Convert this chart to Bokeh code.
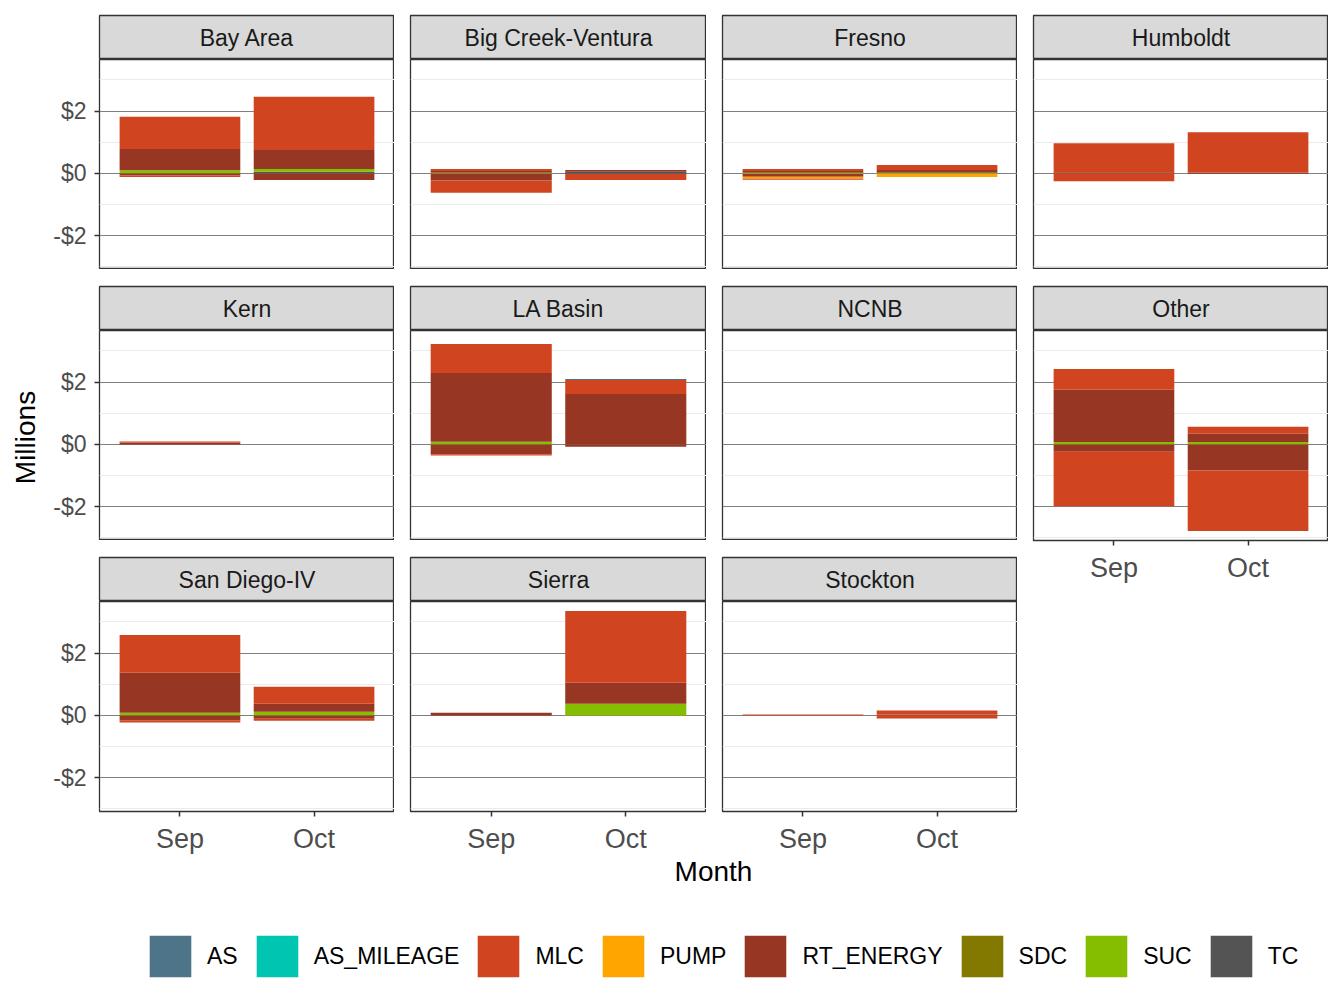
import math
from bokeh.plotting import figure
from bokeh.models import (ColumnDataSource, Range1d, FactorRange, LinearAxis, CategoricalAxis,
                          FixedTicker, NumeralTickFormatter, Label, Legend, LegendItem, Grid)
from bokeh.layouts import row, column
from bokeh.embed import file_html
from bokeh.resources import INLINE
from bokeh.core.properties import value

# ---------------- data ----------------
regions = ["Bay Area", "Big Creek-Ventura", "Fresno", "Humboldt", "Kern", "LA Basin",
           "NCNB", "Other", "San Diego-IV", "Sierra", "Stockton"]
months = ["Sep", "Oct"]
categories = ["AS", "AS_MILEAGE", "MLC", "PUMP", "RT_ENERGY", "SDC", "SUC", "TC"]
colors = ["#4E7489", "#00C5B0", "#D04520", "#FFA500", "#973623", "#837800", "#85BE00", "#545454"]

# values in $ millions, one [Sep, Oct] pair per region (same order as `regions`)
MLC_pos = [[1.04, 1.71], [0.065, 0.0], [0.065, 0.16], [0.93, 1.29], [0.03, 0.0], [0.93, 0.45],
           [0.0, 0.0], [0.67, 0.225], [1.215, 0.547], [0.0, 2.305], [0.03, 0.13]]
MLC_neg = [[-0.055, 0.0], [-0.39, -0.19], [-0.032, 0.0], [-0.25, 0.0], [0.0, 0.0], [-0.035, 0.0],
           [0.0, 0.0], [-1.75, -1.94], [-0.065, -0.064], [0.0, 0.0], [0.0, -0.10]]
RT_ENERGY_pos = [[0.68, 0.61], [0.054, 0.054], [0.054, 0.086], [0.04, 0.03], [0.06, 0.0], [2.21, 1.62],
                 [0.0, 0.0], [1.675, 0.265], [1.28, 0.256], [0.085, 0.672], [0.0, 0.03]]
RT_ENERGY_neg = [[-0.065, -0.215], [-0.22, 0.0], [-0.086, 0.0], [0.0, -0.02], [0.0, 0.0], [-0.32, -0.075],
                 [0.0, 0.0], [-0.235, -0.84], [-0.16, -0.107], [0.0, 0.0], [0.0, 0.0]]
SUC_pos = [[0.10, 0.086], [0.02, 0.0], [0.02, 0.02], [0.0, 0.0], [0.0, 0.0], [0.085, 0.0],
           [0.0, 0.0], [0.075, 0.075], [0.085, 0.117], [0.0, 0.373], [0.0, 0.0]]
SUC_neg = [[0.0, 0.0], [-0.01, 0.0], [-0.02, -0.02], [0.0, 0.0], [0.0, 0.0], [0.0, 0.0],
           [0.0, 0.0], [0.0, 0.0], [0.0, 0.0], [0.0, 0.0], [0.0, 0.0]]
PUMP_pos = [[0.0, 0.0]] * 11
PUMP_neg = [[0.0, 0.0], [0.0, 0.0], [-0.065, -0.097], [0.0, 0.0], [0.0, 0.0], [0.0, 0.0],
            [0.0, 0.0], [0.0, 0.0], [0.0, 0.0], [0.0, 0.0], [0.0, 0.0]]
TC_pos = [[0.0, 0.054], [0.0, 0.054], [0.0, 0.0], [0.0, 0.0], [0.0, 0.0], [0.0, 0.0],
          [0.0, 0.0], [0.0, 0.0], [0.0, 0.0], [0.0, 0.0], [0.0, 0.0]]
TC_neg = [[0.0, 0.0], [0.0, -0.02], [0.0, 0.0], [0.0, 0.0], [0.0, 0.0], [0.0, 0.0],
          [0.0, 0.0], [0.0, 0.0], [0.0, 0.0], [0.0, 0.0], [0.0, 0.0]]
AS_pos = [[0.0, 0.0], [0.0, 0.0], [0.0, 0.0], [0.0, 0.0], [0.0, 0.0], [0.0, 0.032],
          [0.0, 0.0], [0.0, 0.0], [0.0, 0.0], [0.0, 0.0], [0.0, 0.0]]
AS_neg = [[0.0, 0.0]] * 11
AS_MILEAGE_pos = [[0.0, 0.0]] * 11
AS_MILEAGE_neg = [[0.0, 0.0]] * 11
SDC_pos = [[0.0, 0.0]] * 11
SDC_neg = [[0.0, 0.0]] * 11

pos = {"AS": AS_pos, "AS_MILEAGE": AS_MILEAGE_pos, "MLC": MLC_pos, "PUMP": PUMP_pos,
       "RT_ENERGY": RT_ENERGY_pos, "SDC": SDC_pos, "SUC": SUC_pos, "TC": TC_pos}
neg = {"AS": AS_neg, "AS_MILEAGE": AS_MILEAGE_neg, "MLC": MLC_neg, "PUMP": PUMP_neg,
       "RT_ENERGY": RT_ENERGY_neg, "SDC": SDC_neg, "SUC": SUC_neg, "TC": TC_neg}
color_of = dict(zip(categories, colors))
stack_order = list(reversed(categories))  # ggplot stacks last level nearest zero

# ---------------- styling ----------------
FONT = "Liberation Sans"
FRAME_H = 210
STRIP_H = 44
BOTTOM_AX = 46
TOP_PAD = 15
frame_w = [295, 296, 295, 295]
border_left = [57, 16, 16, 16]

# stacked segments and global y range (ggplot 5% expansion)
panel_src = []
ymax, ymin = 0.0, 0.0
for i, reg in enumerate(regions):
    xs, bots, tops, cols = [], [], [], []
    for j, m in enumerate(months):
        pb, nb = 0.0, 0.0
        for cat in stack_order:
            v = pos[cat][i][j]
            if v > 0:
                xs.append(m); bots.append(pb); tops.append(pb + v); cols.append(color_of[cat]); pb += v
        for cat in stack_order:
            v = neg[cat][i][j]
            if v < 0:
                xs.append(m); bots.append(nb + v); tops.append(nb); cols.append(color_of[cat]); nb += v
        ymax = max(ymax, pb); ymin = min(ymin, nb)
    panel_src.append(ColumnDataSource(dict(x=xs, bottom=bots, top=tops, color=cols)))
pad = 0.05 * (ymax - ymin)
Y0, Y1 = ymin - pad, ymax + pad


def make_strip(name, c, top):
    s = figure(width=border_left[c] + frame_w[c], height=top + STRIP_H,
               x_range=Range1d(0, 1), y_range=Range1d(0, 1),
               output_backend="svg", toolbar_location=None,
               x_axis_location=None, y_axis_location=None,
               min_border=0, min_border_left=border_left[c], min_border_top=top,
               min_border_right=0, min_border_bottom=0,
               background_fill_color="#D9D9D9", outline_line_color="#333333",
               outline_line_width=1.3)
    s.center = []
    s.text(x=[0.5], y=[0.5], text=[name], text_align="center", text_baseline="middle",
           text_font=value(FONT), text_font_size="23px", text_color="#1A1A1A")
    return s


def make_panel(i, c, left_axis, bottom_axis):
    bb = BOTTOM_AX if bottom_axis else 0
    p = figure(width=border_left[c] + frame_w[c], height=FRAME_H + bb,
               x_range=FactorRange(factors=months, range_padding=0.1, range_padding_units="absolute"),
               y_range=Range1d(Y0, Y1),
               output_backend="svg", toolbar_location=None,
               x_axis_location=None, y_axis_location=None,
               min_border=0, min_border_left=border_left[c], min_border_top=0,
               min_border_right=0, min_border_bottom=bb,
               background_fill_color="white", outline_line_color="#333333",
               outline_line_width=1.3)
    p.center = []
    p.add_layout(Grid(dimension=1, ticker=FixedTicker(ticks=[-2, 0, 2], minor_ticks=[-3, -1, 1, 3]),
                      grid_line_color="#7F7F7F", grid_line_width=1,
                      minor_grid_line_color="#EBEBEB", minor_grid_line_width=1))
    p.vbar(x="x", bottom="bottom", top="top", width=0.9, source=panel_src[i],
           fill_color="color", line_color=None)
    if left_axis:
        ya = LinearAxis(ticker=FixedTicker(ticks=[-2, 0, 2]),
                        formatter=NumeralTickFormatter(format="$0"))
        ya.axis_line_color = None
        ya.major_tick_line_color = "#333333"
        ya.major_tick_line_width = 1.5
        ya.major_tick_out = 5
        ya.major_tick_in = 0
        ya.minor_tick_line_color = None
        ya.major_label_standoff = 8
        ya.major_label_text_font = FONT
        ya.major_label_text_font_size = "23px"
        ya.major_label_text_color = "#4D4D4D"
        p.add_layout(ya, "left")
    if bottom_axis:
        xa = CategoricalAxis()
        xa.axis_line_color = None
        xa.major_tick_line_color = "#333333"
        xa.major_tick_line_width = 1.5
        xa.major_tick_out = 5
        xa.major_tick_in = 0
        xa.minor_tick_line_color = None
        xa.major_label_standoff = 7
        xa.major_label_text_font = FONT
        xa.major_label_text_font_size = "27px"
        xa.major_label_text_color = "#4D4D4D"
        p.add_layout(xa, "below")
    return p


n = len(regions)
grid_cols = []
for c in range(4):
    items = []
    for r in range(3):
        i = r * 4 + c
        if i >= n:
            continue
        items.append(make_strip(regions[i], c, TOP_PAD if r == 0 else 17))
        below_empty = (i + 4) >= n
        items.append(make_panel(i, c, left_axis=(c == 0), bottom_axis=below_empty))
    grid_cols.append(column(*items, spacing=0))

GRID_H = (TOP_PAD + STRIP_H) + FRAME_H + (17 + STRIP_H) + FRAME_H + (17 + STRIP_H) + FRAME_H + BOTTOM_AX
LAB_W = 42
lab = figure(width=LAB_W, height=GRID_H, x_range=Range1d(0, LAB_W), y_range=Range1d(0, GRID_H),
             output_backend="svg", toolbar_location=None, x_axis_location=None, y_axis_location=None,
             min_border=0, outline_line_color=None)
lab.center = []
lab.add_layout(Label(x=25, y=GRID_H - 437, text="Millions", angle=math.pi / 2,
                     text_align="center", text_baseline="middle",
                     text_font=FONT, text_font_size="28px", text_color="#000000"))

TOTAL_W = LAB_W + sum(b + f for b, f in zip(border_left, frame_w))
BOT_H = 142
bot = figure(width=TOTAL_W, height=BOT_H, x_range=Range1d(0, TOTAL_W), y_range=Range1d(0, BOT_H),
             output_backend="svg", toolbar_location=None, x_axis_location=None, y_axis_location=None,
             min_border=0, outline_line_color=None)
bot.center = []
bot.add_layout(Label(x=713, y=BOT_H - 14, text="Month", text_align="center", text_baseline="middle",
                     text_font=FONT, text_font_size="28px", text_color="#000000"))
# legend swatches: one invisible (off-range, zero-height) bar per category so the legend has a glyph
items = []
for cat, col in zip(categories, colors):
    r = bot.vbar(x=[-500], bottom=[-500], top=[-500], width=1, fill_color=col, line_color=None)
    items.append(LegendItem(label=cat, renderers=[r]))
# Bokeh insets area swatches by 10% per side, so 52.5px boxes give 42px visible keys
leg = Legend(items=items, orientation="horizontal", location=(144, 17),
             glyph_width=52, glyph_height=52, label_standoff=11, spacing=13,
             padding=0, margin=0, border_line_color=None, background_fill_alpha=0,
             label_text_font=FONT, label_text_font_size="23px", label_text_color="#000000")
bot.add_layout(leg)

page = column(row(lab, *grid_cols, spacing=0), bot, spacing=0)
open("out.html", "w").write(file_html(page, INLINE))
